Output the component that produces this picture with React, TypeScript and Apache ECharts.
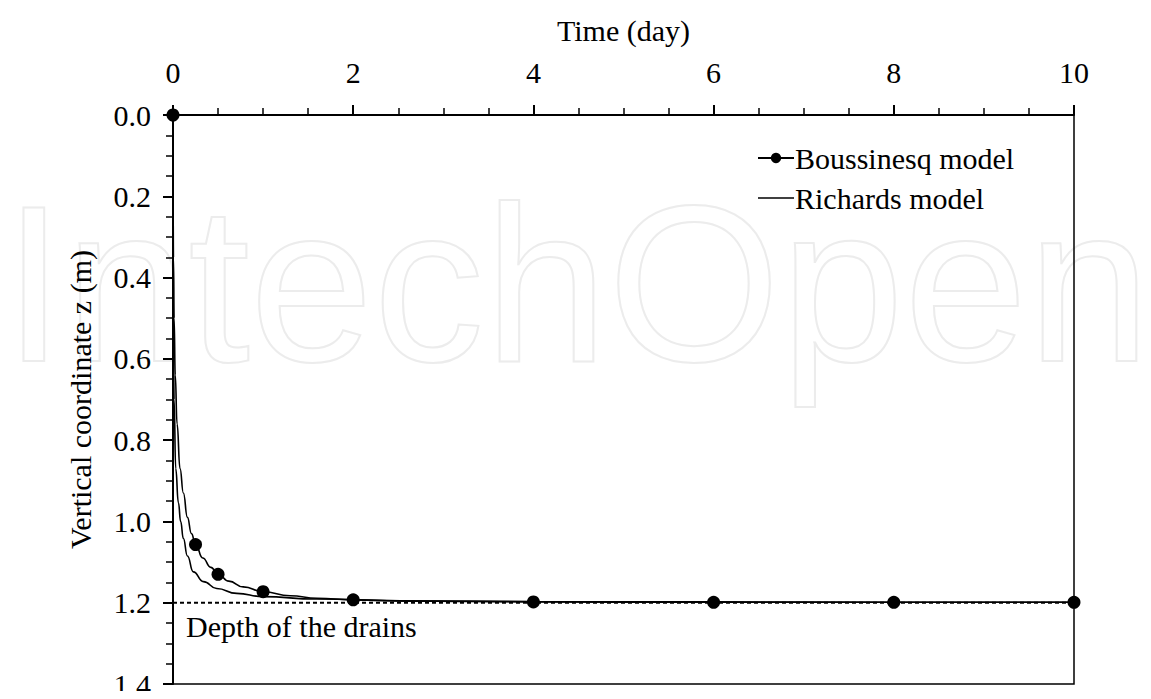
import React, { useEffect, useRef } from "react";
import * as echarts from "echarts";

// Boussinesq model: continuous curve (time in days, depth z in m)
const boussTime = [0, 0.005, 0.012, 0.025, 0.045, 0.078, 0.115, 0.16, 0.205, 0.25, 0.33, 0.42, 0.5, 0.62, 0.78, 1, 1.3, 1.6, 2, 2.6, 3.3, 4, 6, 8, 10];
const boussDepth = [0, 0.35, 0.5, 0.64, 0.76, 0.87, 0.93, 0.99, 1.03, 1.057, 1.09, 1.113, 1.13, 1.147, 1.161, 1.173, 1.183, 1.189, 1.193, 1.196, 1.197, 1.198, 1.199, 1.199, 1.199];
// times at which the Boussinesq markers are drawn
const boussMarkerTimes = [0, 0.25, 0.5, 1, 2, 4, 6, 8, 10];

// Richards model
const richTime = [0, 0.001, 0.004, 0.012, 0.03, 0.06, 0.085, 0.115, 0.16, 0.225, 0.337, 0.485, 0.707, 1.0, 1.59, 2.52, 4, 6, 8, 10];
const richDepth = [0, 0.3, 0.5, 0.7, 0.87, 0.954, 1.0, 1.042, 1.085, 1.124, 1.148, 1.165, 1.177, 1.185, 1.191, 1.195, 1.197, 1.198, 1.199, 1.199];

// Drain depth
const drainTime = [0, 10];
const drainDepth = [1.2, 1.2];

const FONT = "'Liberation Serif', 'Times New Roman', serif";
const FS = 30;

export default function App() {
  const ref = useRef<HTMLDivElement>(null);
  useEffect(() => {
    if (!ref.current) return;
    const chart = echarts.init(ref.current, undefined, { renderer: "svg" });
    const bouss = boussTime.map((t, i) => [t, boussDepth[i]]);
    const rich = richTime.map((t, i) => [t, richDepth[i]]);
    const drain = drainTime.map((t, i) => [t, drainDepth[i]]);
    chart.setOption({
      animation: false,
      backgroundColor: "#ffffff",
      textStyle: { fontFamily: FONT },
      graphic: [
        {
          type: "text",
          z: -10,
          silent: true,
          left: 2,
          top: 172,
          style: {
            text: "IntechOpen",
            font: "lighter 222px 'Liberation Sans', sans-serif",
            fill: "none",
            stroke: "#ececec",
            lineWidth: 2,
          },
        },
        {
          type: "text",
          left: 186,
          top: 611,
          style: { text: "Depth of the drains", font: FS + "px " + FONT, fill: "#000" },
        },
      ],
      grid: {
        left: 173,
        right: 77,
        top: 115,
        bottom: 13,
        show: true,
        borderColor: "#000",
        borderWidth: 1.5,
        backgroundColor: "transparent",
      },
      legend: {
        orient: "vertical",
        left: 752,
        top: 138,
        itemWidth: 36,
        itemHeight: 13,
        itemGap: 10,
        textStyle: { fontFamily: FONT, fontSize: FS, color: "#000", padding: [0, 0, 0, -4] },
        data: [
          { name: "Boussinesq model" },
          { name: "Richards model", icon: "path://M0,0 H36 V1.6 H0 Z" },
        ],
      },
      xAxis: {
        type: "value",
        position: "top",
        min: 0,
        max: 10,
        interval: 2,
        name: "Time (day)",
        nameLocation: "middle",
        nameGap: 70,
        nameTextStyle: { fontFamily: FONT, fontSize: FS, color: "#000" },
        axisLine: { show: true, lineStyle: { color: "#000", width: 2 } },
        axisTick: { show: true, inside: false, length: 10, lineStyle: { color: "#000", width: 2 } },
        minorTick: { show: true, splitNumber: 4, length: 7, lineStyle: { color: "#000", width: 1.5 } },
        axisLabel: { fontFamily: FONT, fontSize: FS, color: "#000", margin: 28 },
        splitLine: { show: false },
      },
      yAxis: {
        type: "value",
        inverse: true,
        min: 0,
        max: 1.4,
        interval: 0.2,
        name: "Vertical coordinate z (m)",
        nameLocation: "middle",
        nameGap: 78,
        nameTextStyle: { fontFamily: FONT, fontSize: FS, color: "#000" },
        axisLine: { show: true, lineStyle: { color: "#000", width: 2 } },
        axisTick: { show: true, inside: false, length: 10, lineStyle: { color: "#000", width: 2 } },
        minorTick: { show: true, splitNumber: 4, length: 7, lineStyle: { color: "#000", width: 1.5 } },
        axisLabel: {
          fontFamily: FONT,
          fontSize: FS,
          color: "#000",
          margin: 22,
          formatter: (v: number) => v.toFixed(1),
        },
        splitLine: { show: false },
      },
      series: [
        {
          name: "Depth of the drains",
          type: "line",
          data: drain,
          showSymbol: false,
          silent: true,
          lineStyle: { color: "#000", width: 2, type: [4, 3] },
          z: 1,
        },
        {
          name: "Richards model",
          type: "line",
          data: rich,
          showSymbol: false,
          symbol: "none",
          smooth: 0.5,
          smoothMonotone: "x",
          lineStyle: { color: "#000", width: 1.6 },
          itemStyle: { color: "#000" },
          z: 3,
        },
        {
          name: "Boussinesq model",
          type: "line",
          data: bouss,
          symbol: "circle",
          showAllSymbol: true,
          symbolSize: (v: number[]) => (boussMarkerTimes.indexOf(v[0]) >= 0 ? 13 : 0),
          smooth: 0.5,
          smoothMonotone: "x",
          lineStyle: { color: "#000", width: 1.6 },
          itemStyle: { color: "#000" },
          z: 4,
        },
      ],
    });
    return () => chart.dispose();
  }, []);
  return <div ref={ref} style={{ width: 1151, height: 699, margin: -8 }} />;
}
